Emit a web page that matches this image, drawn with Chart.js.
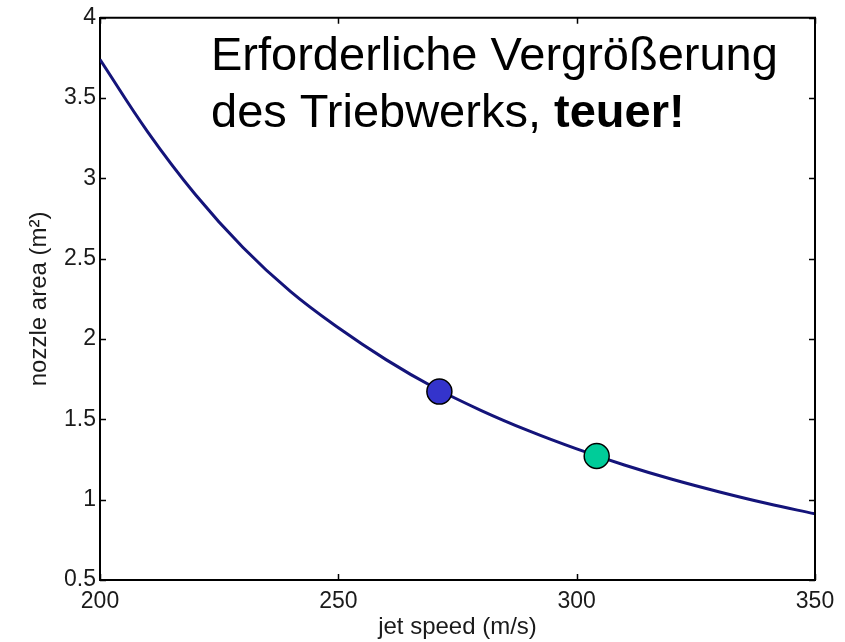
<!DOCTYPE html>
<html>
<head>
<meta charset="utf-8">
<script src="https://cdn.jsdelivr.net/npm/chart.js@4/dist/chart.umd.min.js"></script>
<style>
    html, body { margin: 0; padding: 0; background: #fff; }
</style>
</head>
<body>
<canvas id="chart-nozzle" width="845" height="642"></canvas>
<script>
// values
const speeds = [200, 210, 220, 230, 240, 250, 260, 270, 280, 290, 300, 310, 320, 330, 340, 350]
const areas = [3.74, 3.29, 2.90, 2.57, 2.295, 2.07, 1.872, 1.70, 1.555, 1.428, 1.316, 1.216, 1.127, 1.048, 0.976, 0.912]

const markSpeeds = [271.2, 304.2]
const markAreas = [1.673, 1.272]
const markColors = ['#3434cc', '#00cc99']

const xTicks = [200, 250, 300, 350]
const yTicks = [0.5, 1, 1.5, 2, 2.5, 3, 3.5, 4]

const noteLine1 = 'Erforderliche Vergrößerung'
const noteLine2 = 'des Triebwerks, '
const noteBold = 'teuer!'

const FONT = "'Liberation Sans', Arial, Helvetica, sans-serif"

// MATLAB style box with inward ticks + the note text
const boxTicks = {
    id: 'boxTicks',
    afterDatasetsDraw(chart) {
        const ctx = chart.ctx
        const a = chart.chartArea
        const xs = chart.scales.x
        const ys = chart.scales.y
        const len = 6

        ctx.save()
        ctx.strokeStyle = '#000'
        ctx.lineWidth = 2
        ctx.beginPath()
        ctx.moveTo(a.left, a.top)
        ctx.lineTo(a.right, a.top)
        ctx.lineTo(a.right, a.bottom)
        ctx.stroke()

        ctx.lineWidth = 1.5
        ctx.beginPath()
        xTicks.forEach(v => {
            const px = Math.round(xs.getPixelForValue(v)) + 0.5
            ctx.moveTo(px, a.bottom)
            ctx.lineTo(px, a.bottom - len)
            ctx.moveTo(px, a.top)
            ctx.lineTo(px, a.top + len)
        })
        yTicks.forEach(v => {
            const py = Math.round(ys.getPixelForValue(v)) + 0.5
            ctx.moveTo(a.left, py)
            ctx.lineTo(a.left + len, py)
            ctx.moveTo(a.right, py)
            ctx.lineTo(a.right - len, py)
        })
        ctx.stroke()
        ctx.restore()
    },
    afterDraw(chart) {
        const ctx = chart.ctx
        ctx.save()
        ctx.fillStyle = '#000'
        ctx.textBaseline = 'alphabetic'
        ctx.font = '47px ' + FONT
        ctx.fillText(noteLine1, 211, 70)
        ctx.fillText(noteLine2, 211, 127)
        const w = ctx.measureText(noteLine2).width
        ctx.font = 'bold 47px ' + FONT
        ctx.fillText(noteBold, 211 + w, 127)
        ctx.restore()
    }
}

const tickFont = { family: FONT, size: 23 }

new Chart(document.getElementById('chart-nozzle').getContext('2d'), {
    type: 'line',
    data: {
        datasets: [
            {
                label: 'marks',
                type: 'scatter',
                order: 0,
                data: markSpeeds.map((s, i) => ({ x: s, y: markAreas[i] })),
                pointRadius: 12.5,
                pointHoverRadius: 12.5,
                pointBackgroundColor: markColors,
                pointBorderColor: '#000',
                pointBorderWidth: 1.5,
                showLine: false
            },
            {
                label: 'nozzle area',
                order: 1,
                data: speeds.map((s, i) => ({ x: s, y: areas[i] })),
                borderColor: '#14147a',
                borderWidth: 3,
                pointRadius: 0,
                fill: false,
                tension: 0.4
            }
        ]
    },
    options: {
        responsive: false,
        animation: false,
        devicePixelRatio: 1,
        layout: { padding: { left: 0, right: 30, top: 16, bottom: 0 } },
        plugins: {
            legend: { display: false },
            tooltip: { enabled: false }
        },
        scales: {
            x: {
                type: 'linear',
                min: 200,
                max: 350,
                afterBuildTicks: scale => { scale.ticks = xTicks.map(v => ({ value: v })) },
                afterFit: scale => { scale.height = 62 },
                grid: { display: false, drawTicks: false },
                border: { display: true, color: '#000', width: 2 },
                ticks: {
                    font: tickFont,
                    color: '#1a1a1a',
                    padding: 8,
                    maxRotation: 0,
                    callback: v => String(v)
                },
                title: {
                    display: true,
                    text: 'jet speed (m/s)',
                    font: { family: FONT, size: 24 },
                    color: '#1a1a1a',
                    padding: { top: 0, bottom: 0 }
                }
            },
            y: {
                type: 'linear',
                min: 0.5,
                max: 4,
                afterBuildTicks: scale => { scale.ticks = yTicks.map(v => ({ value: v })) },
                afterFit: scale => { scale.width = 100 },
                grid: { display: false, drawTicks: false },
                border: { display: true, color: '#000', width: 2 },
                ticks: {
                    font: tickFont,
                    color: '#1a1a1a',
                    padding: 4,
                    callback: v => String(v)
                },
                title: {
                    display: true,
                    text: 'nozzle area (m²)',
                    font: { family: FONT, size: 24 },
                    color: '#1a1a1a',
                    padding: { top: 25, bottom: 0 }
                }
            }
        }
    },
    plugins: [boxTicks]
})
</script>
</body>
</html>
